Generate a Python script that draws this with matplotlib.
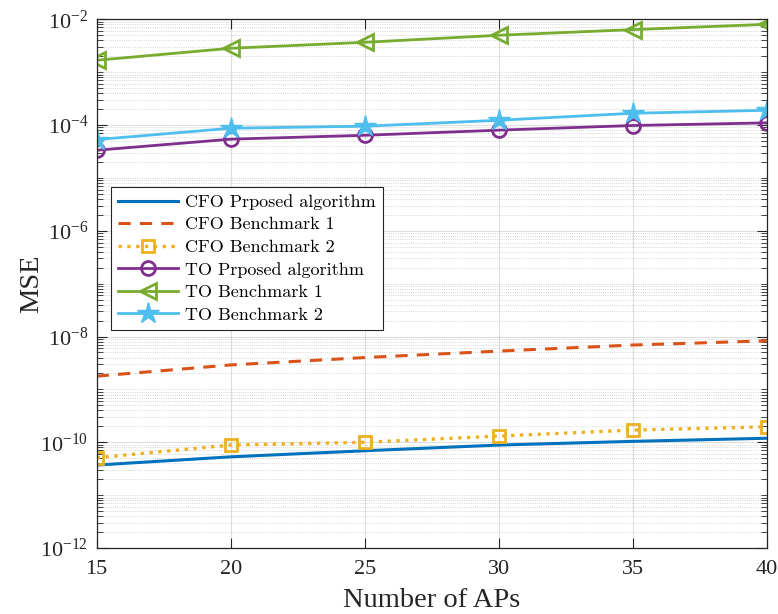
import numpy as np
import matplotlib
matplotlib.use("Agg")
import matplotlib.pyplot as plt
from matplotlib.ticker import FixedLocator, LogFormatterMathtext, NullFormatter

plt.rcParams['mathtext.fontset'] = 'custom'
plt.rcParams['mathtext.rm'] = 'Liberation Serif'
plt.rcParams['mathtext.it'] = 'Liberation Serif:italic'
plt.rcParams['font.family'] = ['Liberation Serif', 'DejaVu Serif']

num_aps = [15, 20, 25, 30, 35, 40]

cfo_proposed = [3.7e-11, 5.3e-11, 6.9e-11, 8.85e-11, 1.04e-10, 1.19e-10]
cfo_bench1 = [1.78e-9, 2.9e-9, 4.0e-9, 5.3e-9, 6.9e-9, 8.3e-9]
cfo_bench2 = [5.1e-11, 8.85e-11, 1.0e-10, 1.31e-10, 1.7e-10, 1.96e-10]
to_proposed = [3.34e-5, 5.4e-5, 6.4e-5, 8.0e-5, 9.8e-5, 1.1e-4]
to_bench1 = [1.68e-3, 2.83e-3, 3.67e-3, 4.99e-3, 6.38e-3, 8.04e-3]
to_bench2 = [5.3e-5, 8.7e-5, 9.5e-5, 1.23e-4, 1.67e-4, 1.9e-4]

labels = ["CFO Prposed algorithm", "CFO Benchmark 1", "CFO Benchmark 2",
          "TO Prposed algorithm", "TO Benchmark 1", "TO Benchmark 2"]

c_blue = '#0072BD'
c_orange = '#D95319'
c_yellow = '#EDB120'
c_purple = '#7E2F8E'
c_green = '#77AC30'
c_cyan = '#4DBEEE'

fig = plt.figure(figsize=(7.78, 6.14), dpi=100)
ax = fig.add_axes([96.7 / 778, (614 - 548) / 614, 670 / 778, (548 - 19.3) / 614])

lw = 2.0
ax.plot(num_aps, cfo_proposed, '-', color=c_blue, lw=lw + 0.2, label=labels[0])
ax.plot(num_aps, cfo_bench1, '--', color=c_orange, lw=lw + 0.2, dashes=(4, 3), label=labels[1])
ax.plot(num_aps, cfo_bench2, ':', color=c_yellow, lw=lw + 0.4, marker='s', ms=9,
        mfc='none', mew=2, label=labels[2])
ax.plot(num_aps, to_proposed, '-', color=c_purple, lw=lw, marker='o', ms=10,
        mfc='none', mew=2, label=labels[3])
ax.plot(num_aps, to_bench1, '-', color=c_green, lw=lw, marker='<', ms=11,
        mfc='none', mew=2, label=labels[4])
ax.plot(num_aps, to_bench2, '-', color=c_cyan, lw=lw, marker='*', ms=16,
        label=labels[5])

ax.set_yscale('log')
ax.set_xlim(15, 40)
ax.set_ylim(1e-12, 1e-2)
ax.set_xticks(num_aps)

major = [10.0 ** e for e in range(-12, -1, 2)]
minor = [m * 10.0 ** e for e in range(-12, -2) for m in range(1, 10)
         if not (m == 1 and e % 2 == 0)]
ax.yaxis.set_major_locator(FixedLocator(major))
ax.yaxis.set_major_formatter(LogFormatterMathtext())
ax.yaxis.set_minor_locator(FixedLocator(minor))
ax.yaxis.set_minor_formatter(NullFormatter())

ax.tick_params(which='both', direction='in', top=True, right=True, color='#262626')
ax.tick_params(which='major', length=7, width=0.8, labelsize=16, pad=6,
               labelcolor='#262626')
ax.tick_params(which='minor', length=4, width=0.6)
ax.tick_params(axis='x', which='major', pad=9)

ax.grid(True, which='major', color='#262626', alpha=0.15, lw=0.8, ls='-')
ax.grid(True, which='minor', axis='y', color='#262626', alpha=0.25, lw=0.6, ls=':')
ax.set_axisbelow(True)
for s in ax.spines.values():
    s.set_color('#262626')
    s.set_linewidth(0.9)

ax.set_xlabel('Number of APs', fontsize=20.5, color='#262626', labelpad=6)
ax.set_ylabel('MSE', fontsize=20.5, color='#262626', labelpad=-3)

leg = ax.legend(loc='upper left', bbox_to_anchor=(0.021, 0.683), borderaxespad=0,
                prop={'family': 'cmr10', 'size': 13}, handlelength=3.3,
                handletextpad=0.4, labelspacing=0.38, fancybox=False,
                framealpha=1, edgecolor='#262626', borderpad=0.4)
leg.get_frame().set_linewidth(0.8)

fig.savefig('out.png', dpi=100)
